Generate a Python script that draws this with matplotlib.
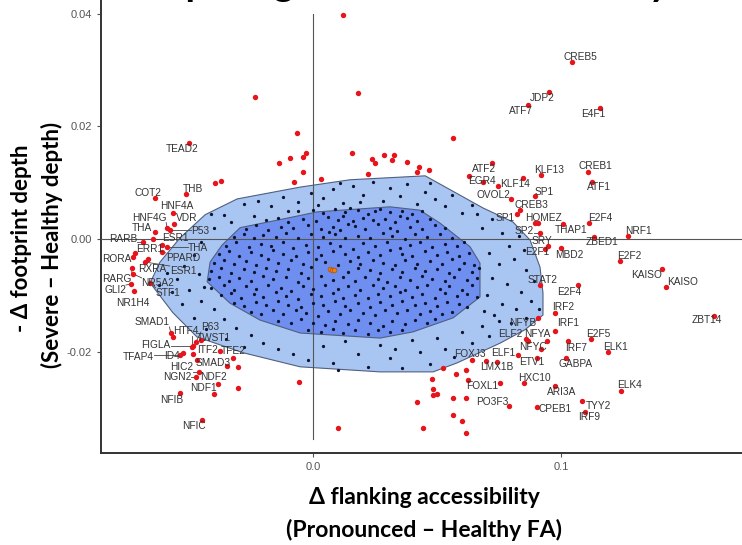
import numpy as np
import matplotlib.pyplot as plt
from matplotlib.patches import Polygon

# ---- contour regions (data units) ----
outer_x = [-0.0657, -0.0617, -0.0536, -0.0435, -0.0306, -0.0052, 0.0149, 0.0452,
           0.0685, 0.0806, 0.0875, 0.0915, 0.0927, 0.0927, 0.0855, 0.0754, 0.0581,
           0.0484, 0.0270, -0.0052, -0.0282, -0.0468, -0.0565]
outer_y = [-0.0078, -0.0041, 0.0002, 0.0043, 0.0071, 0.0092, 0.0105, 0.0112,
           0.0055, 0.0030, -0.0002, -0.0050, -0.0096, -0.0135, -0.0161, -0.0185, -0.0220,
           -0.0236, -0.0236, -0.0227, -0.0202, -0.0174, -0.0131]
inner_x = [-0.0427, -0.0415, -0.0367, -0.0294, -0.0081, 0.0016, 0.0310, 0.0431,
           0.0512, 0.0633, 0.0673, 0.0673, 0.0565, 0.0403, 0.0270, -0.0052, -0.0214, -0.0335]
inner_y = [-0.0076, -0.0041, -0.0011, 0.0020, 0.0039, 0.0048, 0.0057, 0.0051,
           0.0028, -0.0014, -0.0043, -0.0103, -0.0140, -0.0165, -0.0176, -0.0167, -0.0144, -0.0114]

# ---- background (non-significant) motifs ----
inner_dots = [
    (-0.006, 0.0049), (0.000, 0.0052), (0.004, 0.0046), (0.009, 0.0053), (0.013, 0.0047), (0.018, 0.0051),
    (0.022, 0.0044), (0.027, 0.0054), (0.031, 0.0048), (0.036, 0.0050), (0.040, 0.0045), (0.044, 0.0049),
    (0.015, 0.0055), (0.025, 0.0050),
    (-0.019, 0.0033), (-0.014, 0.0038), (-0.010, 0.0030), (-0.004, 0.0036), (0.001, 0.0032), (0.006, 0.0039),
    (0.010, 0.0034), (0.016, 0.0031), (0.020, 0.0038), (0.024, 0.0033), (0.029, 0.0036), (0.033, 0.0030),
    (0.038, 0.0037), (0.042, 0.0032), (0.047, 0.0035), (0.012, 0.0040), (0.035, 0.0041),
    (-0.027, 0.0018), (-0.023, 0.0024), (-0.018, 0.0016), (-0.013, 0.0022), (-0.008, 0.0019), (-0.002, 0.0025),
    (0.003, 0.0017), (0.008, 0.0021), (0.011, 0.0015), (0.017, 0.0023), (0.021, 0.0018), (0.026, 0.0026),
    (0.031, 0.0020), (0.034, 0.0014), (0.039, 0.0022), (0.044, 0.0017), (0.049, 0.0024), (0.053, 0.0019),
    (0.014, 0.0027),
    (-0.032, 0.0004), (-0.028, 0.0009), (-0.024, 0.0001), (-0.020, 0.0007), (-0.015, 0.0003), (-0.011, 0.0010),
    (-0.006, 0.0002), (-0.001, 0.0008), (0.004, 0.0004), (0.009, 0.0009), (0.013, 0.0001), (0.018, 0.0006),
    (0.023, 0.0002), (0.028, 0.0010), (0.032, 0.0005), (0.037, 0.0000), (0.041, 0.0008), (0.046, 0.0003),
    (0.051, 0.0009), (0.056, 0.0002), (0.0065, 0.0013),
    (-0.035, -0.0012), (-0.031, -0.0006), (-0.026, -0.0015), (-0.021, -0.0009), (-0.017, -0.0013),
    (-0.012, -0.0005), (-0.008, -0.0016), (-0.003, -0.0010), (0.002, -0.0014), (0.007, -0.0007),
    (0.011, -0.0012), (0.016, -0.0017), (0.020, -0.0008), (0.025, -0.0013), (0.030, -0.0005),
    (0.035, -0.0016), (0.039, -0.0010), (0.043, -0.0006), (0.048, -0.0014), (0.053, -0.0009),
    (0.058, -0.0012), (0.061, -0.0005),
    (-0.038, -0.0027), (-0.034, -0.0021), (-0.030, -0.0030), (-0.025, -0.0024), (-0.021, -0.0029),
    (-0.016, -0.0020), (-0.012, -0.0026), (-0.007, -0.0031), (-0.002, -0.0023), (0.003, -0.0028),
    (0.008, -0.0021), (0.013, -0.0027), (0.018, -0.0032), (0.022, -0.0024), (0.027, -0.0029),
    (0.031, -0.0020), (0.036, -0.0026), (0.040, -0.0031), (0.045, -0.0022), (0.050, -0.0028),
    (0.054, -0.0023), (0.059, -0.0030), (0.063, -0.0025),
    (-0.040, -0.0042), (-0.036, -0.0037), (-0.032, -0.0045), (-0.027, -0.0039), (-0.023, -0.0046),
    (-0.018, -0.0036), (-0.014, -0.0043), (-0.009, -0.0038), (-0.004, -0.0044), (0.001, -0.0036),
    (0.005, -0.0041), (0.010, -0.0046), (0.015, -0.0039), (0.019, -0.0044), (0.024, -0.0037),
    (0.028, -0.0043), (0.033, -0.0047), (0.037, -0.0038), (0.042, -0.0044), (0.047, -0.0039),
    (0.052, -0.0045), (0.056, -0.0036), (0.061, -0.0042), (0.065, -0.0046),
    (-0.041, -0.0057), (-0.037, -0.0052), (-0.033, -0.0060), (-0.028, -0.0054), (-0.024, -0.0059),
    (-0.019, -0.0051), (-0.015, -0.0057), (-0.010, -0.0053), (-0.005, -0.0060), (-0.001, -0.0050),
    (0.014, -0.0058), (0.018, -0.0052), (0.023, -0.0056), (0.027, -0.0061), (0.032, -0.0053),
    (0.036, -0.0058), (0.041, -0.0051), (0.045, -0.0057), (0.050, -0.0053), (0.055, -0.0060),
    (0.059, -0.0054), (0.064, -0.0058), (0.067, -0.0051),
    (-0.042, -0.0072), (-0.038, -0.0067), (-0.034, -0.0075), (-0.030, -0.0069), (-0.025, -0.0074),
    (-0.020, -0.0066), (-0.016, -0.0072), (-0.011, -0.0068), (-0.006, -0.0076), (-0.002, -0.0070),
    (0.003, -0.0065), (0.008, -0.0073), (0.012, -0.0068), (0.017, -0.0075), (0.021, -0.0067),
    (0.026, -0.0072), (0.030, -0.0076), (0.035, -0.0068), (0.039, -0.0073), (0.044, -0.0066),
    (0.048, -0.0071), (0.053, -0.0075), (0.057, -0.0068), (0.062, -0.0073), (0.066, -0.0069),
    (-0.041, -0.0087), (-0.036, -0.0082), (-0.032, -0.0090), (-0.027, -0.0084), (-0.023, -0.0089),
    (-0.018, -0.0081), (-0.013, -0.0087), (-0.009, -0.0092), (-0.004, -0.0083), (0.000, -0.0088),
    (0.005, -0.0081), (0.010, -0.0089), (0.014, -0.0084), (0.019, -0.0091), (0.024, -0.0082),
    (0.028, -0.0087), (0.033, -0.0083), (0.037, -0.0090), (0.042, -0.0085), (0.046, -0.0081),
    (0.051, -0.0088), (0.055, -0.0084), (0.060, -0.0090), (0.064, -0.0082),
    (-0.037, -0.0100), (-0.033, -0.0096), (-0.029, -0.0104), (-0.024, -0.0098), (-0.020, -0.0103),
    (-0.015, -0.0095), (-0.011, -0.0101), (-0.006, -0.0106), (-0.001, -0.0097), (0.003, -0.0102),
    (0.008, -0.0096), (0.012, -0.0104), (0.017, -0.0099), (0.022, -0.0105), (0.026, -0.0097),
    (0.031, -0.0102), (0.035, -0.0095), (0.040, -0.0103), (0.044, -0.0098), (0.049, -0.0104),
    (0.053, -0.0096), (0.058, -0.0101), (0.062, -0.0097), (0.066, -0.0103),
    (-0.032, -0.0114), (-0.028, -0.0119), (-0.023, -0.0112), (-0.019, -0.0118), (-0.014, -0.0111),
    (-0.010, -0.0117), (-0.005, -0.0121), (0.000, -0.0113), (0.004, -0.0118), (0.009, -0.0111),
    (0.013, -0.0119), (0.018, -0.0114), (0.023, -0.0120), (0.027, -0.0112), (0.032, -0.0117),
    (0.036, -0.0110), (0.041, -0.0118), (0.045, -0.0113), (0.050, -0.0119), (0.054, -0.0112),
    (0.059, -0.0116), (0.062, -0.0121),
    (-0.025, -0.0129), (-0.021, -0.0134), (-0.016, -0.0127), (-0.012, -0.0133), (-0.007, -0.0126),
    (-0.003, -0.0132), (0.002, -0.0136), (0.006, -0.0128), (0.011, -0.0133), (0.015, -0.0126),
    (0.020, -0.0131), (0.025, -0.0135), (0.029, -0.0127), (0.034, -0.0132), (0.038, -0.0126),
    (0.043, -0.0134), (0.047, -0.0128), (0.052, -0.0133), (0.056, -0.0129),
    (-0.014, -0.0146), (-0.009, -0.0150), (-0.005, -0.0143), (0.000, -0.0149), (0.005, -0.0153),
    (0.009, -0.0145), (0.014, -0.0151), (0.018, -0.0144), (0.023, -0.0150), (0.028, -0.0155),
    (0.032, -0.0146), (0.037, -0.0151), (0.041, -0.0144), (0.046, -0.0149), (0.049, -0.0142),
    (-0.002, -0.0162), (0.003, -0.0166), (0.008, -0.0160), (0.012, -0.0167), (0.017, -0.0161),
    (0.022, -0.0168), (0.026, -0.0162), (0.031, -0.0166), (0.036, -0.0161),
]
ring_dots = [
    (-0.028, 0.0062), (-0.022, 0.0068), (-0.017, 0.0058), (-0.012, 0.0074), (-0.006, 0.0066),
    (-0.001, 0.0082), (0.004, 0.0072), (0.008, 0.0088), (0.012, 0.0064), (0.016, 0.0094),
    (0.020, 0.0078), (0.024, 0.0101), (0.028, 0.0068), (0.031, 0.0090), (0.035, 0.0076),
    (0.038, 0.0098), (0.042, 0.0062), (0.045, 0.0084), (0.049, 0.0070), (0.053, 0.0058),
    (0.056, 0.0078), (0.060, 0.0046), (0.064, 0.0060), (0.002, 0.0060), (0.019, 0.0066),
    (-0.010, 0.0050), (-0.024, 0.0040), (-0.033, 0.0030), (0.047, 0.0100), (0.011, 0.0100),
    (-0.036, 0.0042), (-0.040, 0.0020), (-0.045, -0.0005), (-0.048, -0.0028), (-0.052, -0.0048),
    (-0.046, -0.0062), (-0.055, -0.0071), (-0.059, -0.0060), (-0.050, -0.0091), (-0.045, -0.0110),
    (-0.040, -0.0125), (-0.053, -0.0115), (-0.048, -0.0140), (-0.036, -0.0142), (-0.031, -0.0158),
    (-0.043, -0.0160), (-0.025, -0.0170), (-0.020, -0.0185), (-0.035, -0.0178), (-0.014, -0.0195),
    (-0.008, -0.0205), (-0.041, 0.0045), (-0.044, -0.0085), (-0.057, -0.0095), (-0.028, -0.0192),
    (-0.062, -0.0082),
    (-0.002, -0.0215), (0.004, -0.0190), (0.008, -0.0220), (0.013, -0.0182), (0.018, -0.0205),
    (0.022, -0.0228), (0.027, -0.0189), (0.031, -0.0212), (0.036, -0.0230), (0.040, -0.0180),
    (0.043, -0.0200), (0.047, -0.0222), (0.050, -0.0175), (0.053, -0.0195), (0.057, -0.0210),
    (0.060, -0.0165), (0.064, -0.0185), (0.068, -0.0155), (0.071, -0.0172), (0.075, -0.0145),
    (0.010, -0.0232), (0.033, -0.0195),
    (0.068, 0.0020), (0.072, 0.0035), (0.076, 0.0010), (0.079, -0.0012), (0.083, 0.0005),
    (0.071, -0.0025), (0.075, -0.0045), (0.081, -0.0035), (0.086, -0.0055), (0.072, -0.0070),
    (0.078, -0.0080), (0.084, -0.0095), (0.089, -0.0075), (0.070, -0.0100), (0.076, -0.0115),
    (0.082, -0.0125), (0.088, -0.0110), (0.073, -0.0135), (0.080, -0.0150), (0.086, -0.0140),
    (0.091, -0.0125), (0.066, 0.0045), (0.085, -0.0020), (0.069, -0.0128),
]

# ---- significant motifs (labelled) ----
tf_names = ["CREB5", "JDP2", "ATF7", "E4F1", "ATF2", "EGR4", "KLF14", "KLF13", "CREB1", "ATF1",
            "SP1", "OVOL2", "CREB3", "SP1", "HOMEZ", "SP2", "SRY", "E2F1", "THAP1", "E2F4",
            "ZBED1", "NRF1", "MBD2", "E2F2", "KAISO", "KAISO", "STAT2", "E2F4", "IRF2", "ZBT14",
            "NFYB", "IRF1", "ELF2", "NFYA", "NFYC", "ETV1", "E2F5", "IRF7", "ELK1", "ELF1",
            "FOXJ3", "LMX1B", "GABPA", "HXC10", "FOXL1", "ARI3A", "ELK4", "PO3F3", "CPEB1", "TYY2",
            "IRF9",
            "TEAD2", "THB", "COT2", "HNF4A", "HNF4G", "VDR", "THA", "P53", "RARB", "ESR1",
            "ERR1", "THA", "RORA", "PPARD", "RXRA", "ESR1", "RARG", "NR5A2", "GLI2", "NR1H4",
            "STF1", "SMAD1", "HTF4", "P63", "TWST1", "FIGLA", "ITF2", "TFE2", "TFAP4", "ID4",
            "SMAD3", "HIC2", "NGN2", "NDF2", "NDF1", "NFIB", "NFIC"]
tf_x = [0.1044, 0.0952, 0.0867, 0.1157, 0.0722, 0.0629, 0.0847, 0.0919, 0.1109, 0.1125,
        0.0895, 0.0798, 0.0835, 0.0823, 0.0895, 0.0915, 0.0948, 0.0935, 0.1008, 0.1113,
        0.1133, 0.1270, 0.1000, 0.1238, 0.1407, 0.1423, 0.0915, 0.1069, 0.0976, 0.1617,
        0.0907, 0.0976, 0.0859, 0.0944, 0.0919, 0.0903, 0.1121, 0.1028, 0.1190, 0.0827,
        0.0641, 0.0742, 0.1020, 0.0851, 0.0754, 0.0976, 0.1242, 0.0790, 0.0903, 0.1085,
        0.1097,
        -0.0500, -0.0512, -0.0637, -0.0565, -0.0589, -0.0560, -0.0637, -0.0577, -0.0685, -0.0645,
        -0.0609, -0.0589, -0.0718, -0.0609, -0.0665, -0.0677, -0.0730, -0.0726, -0.0734, -0.0722,
        -0.0657, -0.0573, -0.0488, -0.0472, -0.0452, -0.0484, -0.0484, -0.0375, -0.0536, -0.0524,
        -0.0468, -0.0460, -0.0472, -0.0383, -0.0399, -0.0536, -0.0448]
tf_y = [0.0314, 0.0261, 0.0238, 0.0232, 0.0135, 0.0112, 0.0108, 0.0114, 0.0119, 0.0101,
        0.0076, 0.0071, 0.0051, 0.0044, 0.0028, 0.0011, -0.0012, -0.0018, 0.0027, 0.0028,
        0.0004, 0.0005, -0.0016, -0.0039, -0.0053, -0.0085, -0.0082, -0.0082, -0.0131, -0.0137,
        -0.0140, -0.0163, -0.0177, -0.0181, -0.0195, -0.0211, -0.0177, -0.0181, -0.0201, -0.0206,
        -0.0215, -0.0218, -0.0211, -0.0256, -0.0256, -0.0261, -0.0270, -0.0296, -0.0298, -0.0287,
        -0.0307,
        0.0170, 0.0080, 0.0073, 0.0046, 0.0020, 0.0027, 0.0012, 0.0016, -0.0005, 0.0000,
        -0.0011, -0.0014, -0.0025, -0.0023, -0.0035, -0.0041, -0.0051, -0.0062, -0.0080, -0.0092,
        -0.0078, -0.0167, -0.0192, -0.0183, -0.0179, -0.0190, -0.0204, -0.0199, -0.0206, -0.0202,
        -0.0215, -0.0236, -0.0245, -0.0257, -0.0275, -0.0273, -0.0321]

# ---- significant motifs (unlabelled) ----
other_x = [0.0565, 0.0746, 0.0685, 0.0907, 0.0867, 0.0698, 0.0524, 0.0577, 0.0617, 0.0625,
           0.0480, 0.0484, 0.0484, 0.0500, 0.0419, 0.0565, 0.0617, 0.0565, 0.0601, 0.0617,
           0.0444, 0.0101, -0.0137, -0.0093, -0.0040, -0.0028, -0.0040, -0.0077, 0.0032, 0.0157,
           0.0238, 0.0250, 0.0286, 0.0327, 0.0319, 0.0379, 0.0427, 0.0419, 0.0468, 0.0222,
           -0.0395, -0.0371, -0.0065, 0.0121, -0.0234, 0.0181, -0.0726, -0.0323, -0.0302, -0.0302,
           -0.0056, -0.0347, -0.0565]
other_y = [0.0179, 0.0094, 0.0101, 0.0028, -0.0181, -0.0217, -0.0229, -0.0240, -0.0232, -0.0250,
           -0.0248, -0.0266, -0.0277, -0.0275, -0.0289, -0.0282, -0.0282, -0.0312, -0.0323, -0.0344,
           -0.0335, -0.0335, 0.0135, 0.0144, 0.0146, 0.0153, 0.0119, 0.0101, 0.0106, 0.0153,
           0.0142, 0.0135, 0.0149, 0.0149, 0.0140, 0.0137, 0.0128, 0.0119, 0.0122, 0.0115,
           0.0099, 0.0103, 0.0188, 0.0398, 0.0252, 0.0259, -0.0032, -0.0211, -0.0227, -0.0264,
           -0.0254, -0.0225, -0.0174]

# healthy reference (centre)
centre_x = [0.0070, 0.0078, 0.0086]
centre_y = [-0.0054, -0.0056, -0.0055]

# label offsets from the point, in pixels (as placed by the repel layout)
label_dx = [8, -7, -7, -7, -8, 13, -8, 8, 7, 7,
            9, -18, 11, -12, 8, -16, -6, -8, 8, 11,
            8, 10, 8, 9, -15, 17, 3, -9, 8, -7,
            -15, 13, -16, -10, -8, -5, 7, 8, 7, -15,
            -2, 0, 10, 10, -18, 7, 8, -17, 18, 16,
            4,
            -7, 7, -7, 4, -18, 13, -13, 30, -20, 22,
            -12, 31, -18, 21, 4, 38, -15, 25, -16, -1,
            18, -19, -6, 14, 13, -37, 14, 13, -42, -11,
            16, -17, -19, -5, -11, -8, -8]
label_dy = [5, -6, -6, -6, -6, -5, -6, 5, 6, -5,
            4, 4, 5, -4, 5, 2, 5, -3, -6, 5,
            -5, 5, -7, 5, -6, 5, 5, -7, 6, -4,
            -5, 8, 5, 7, 2, -4, 5, -7, 5, 2,
            6, -5, -6, 5, -3, -6, 6, 4, -2, -5,
            -5,
            -6, 5, 5, 7, 10, 6, 4, -1, 3, 1,
            -4, -1, -6, -6, -10, -9, -11, -9, -6, -12,
            -10, 11, 16, 15, 2, 1, 4, 0, -2, -3,
            -3, 5, 0, 7, 6, -7, -6]


def main():
    fig = plt.figure(figsize=(7.42, 5.45), dpi=100)
    ax = fig.add_axes([101 / 742, 92 / 545, 659 / 742, 458 / 545])
    ax.set_xlim(-0.0855, 0.1802)
    ax.set_ylim(-0.0380, 0.0433)

    ax.add_patch(Polygon(np.column_stack([outer_x, outer_y]), closed=True,
                         fc="#a9c6f3", ec="#4f5f7f", lw=0.8, zorder=1))
    ax.add_patch(Polygon(np.column_stack([inner_x, inner_y]), closed=True,
                         fc="#6f8ff0", ec="#4f5f7f", lw=0.8, zorder=2))

    ax.axhline(0, color="#555555", lw=0.8, zorder=3)
    ax.plot([0, 0], [-0.0355, 0.0400], color="#555555", lw=0.8, zorder=3)

    dots = np.array(inner_dots + ring_dots)
    ax.scatter(dots[:, 0], dots[:, 1], s=5.5, color="#0e1330", lw=0, zorder=4)

    ax.scatter(other_x, other_y, s=15, color="#e8141c", lw=0, zorder=5)
    ax.scatter(tf_x, tf_y, s=15, color="#e8141c", lw=0, zorder=5)
    ax.scatter(centre_x, centre_y, s=12, color="#f07c12", edgecolors="#a04a00",
               lw=0.4, zorder=6)

    texts = []
    for name, x, y, dx, dy in zip(tf_names, tf_x, tf_y, label_dx, label_dy):
        t = ax.annotate(name, (x, y), xytext=(dx, dy), textcoords="offset pixels",
                        ha="center", va="center", fontsize=7.3, color="#333333",
                        family="Liberation Sans", zorder=7)
        texts.append((t, x, y, dx, dy))

    # repel-style leader segments for labels pushed away from their point
    fig.canvas.draw()
    renderer = fig.canvas.get_renderer()
    inv = ax.transData.inverted()
    for t, x, y, dx, dy in texts:
        if np.hypot(dx, dy) < 14:
            continue
        bb = t.get_window_extent(renderer)
        px, py = ax.transData.transform((x, y))
        qx = min(max(px, bb.x0), bb.x1)
        qy = min(max(py, bb.y0), bb.y1)
        if np.hypot(qx - px, qy - py) < 4:
            continue
        p0 = inv.transform((px, py))
        p1 = inv.transform((qx, qy))
        ax.plot([p0[0], p1[0]], [p0[1], p1[1]], color="#444444", lw=0.6, zorder=4.5)

    for side in ["top", "right"]:
        ax.spines[side].set_visible(False)
    for side in ["left", "bottom"]:
        ax.spines[side].set_color("#333333")
        ax.spines[side].set_linewidth(1.4)

    ax.set_yticks([-0.02, 0.0, 0.02, 0.04])
    ax.set_yticklabels(["-0.02", "0.00", "0.02", "0.04"])
    ax.set_xticks([0.0, 0.1])
    ax.set_xticklabels(["0.0", "0.1"])
    ax.tick_params(axis="both", length=3, width=0.8, color="#555555",
                   labelcolor="#555555", labelsize=8)
    for lab in ax.get_xticklabels() + ax.get_yticklabels():
        lab.set_family("Liberation Sans")

    bold = dict(fontweight="bold", family=["Lato", "DejaVu Sans"], color="black")
    # title sits above the visible area; only its descenders show
    fig.text(105 / 742, 1 + 4 / 545, "Comparing TF motif accessibility",
             ha="left", va="baseline", fontsize=28, **bold)
    fig.text(424 / 742, 1 - 497 / 545, "Δ flanking accessibility",
             ha="center", va="center", fontsize=16.5, **bold)
    fig.text(424 / 742, 1 - 530 / 545, "(Pronounced – Healthy FA)",
             ha="center", va="center", fontsize=16.5, **bold)
    fig.text(22 / 742, 1 - 238 / 545, "- Δ footprint depth",
             ha="center", va="center", rotation=90, fontsize=16, **bold)
    fig.text(52 / 742, 1 - 245 / 545, "(Severe – Healthy depth)",
             ha="center", va="center", rotation=90, fontsize=16, **bold)

    fig.savefig("out.png", dpi=100, facecolor="white")


if __name__ == "__main__":
    main()
